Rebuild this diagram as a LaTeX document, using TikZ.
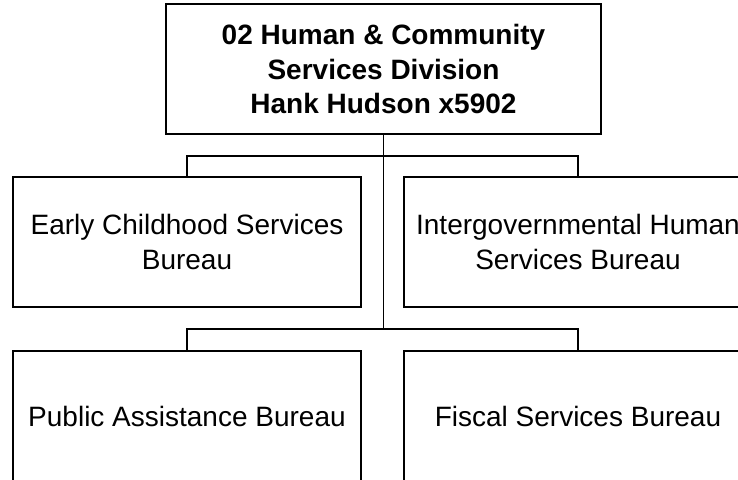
\documentclass[tikz,border=0pt]{standalone}
\usepackage{fontspec}
\setmainfont{Liberation Sans}

\begin{document}
\begin{tikzpicture}[x=1pt,y=-1pt,line width=1.2pt]

                \tikzset{unit/.style = {shape=rectangle,draw,outer sep=0pt,align=center,
                                        minimum width=348pt,minimum height=130pt,
                                        font=\fontsize{28}{35}\selectfont}}
                \tikzset{head/.style = {unit,minimum width=435pt,
                                        font=\bfseries\fontsize{28}{34.5}\selectfont}}
                \tikzset{link/.style = {line width=1.2pt}}

                \useasboundingbox (0,0) rectangle (738,479);
                \clip (0,0) rectangle (738,479);

                \node[head] (d0) at (383.5,69) {02 Human \& Community\\Services Division\\Hank Hudson x5902};
                \node[unit] (b1) at (187,242) {Early Childhood Services\\Bureau};
                \node[unit] (b2) at (578,242) {Intergovernmental Human\\Services Bureau};
                \node[unit] (b3) at (187,416) {Public Assistance Bureau};
                \node[unit] (b4) at (578,416) {Fiscal Services Bureau};

                \coordinate (j1) at (383.5,156);
                \coordinate (j2) at (383.5,329);

                \draw[link] (d0.south) to (j2);
                \draw[link] (b1.north) |- (j1) -| (b2.north);
                \draw[link] (b3.north) |- (j2) -| (b4.north);

            \end{tikzpicture}
\end{document}
